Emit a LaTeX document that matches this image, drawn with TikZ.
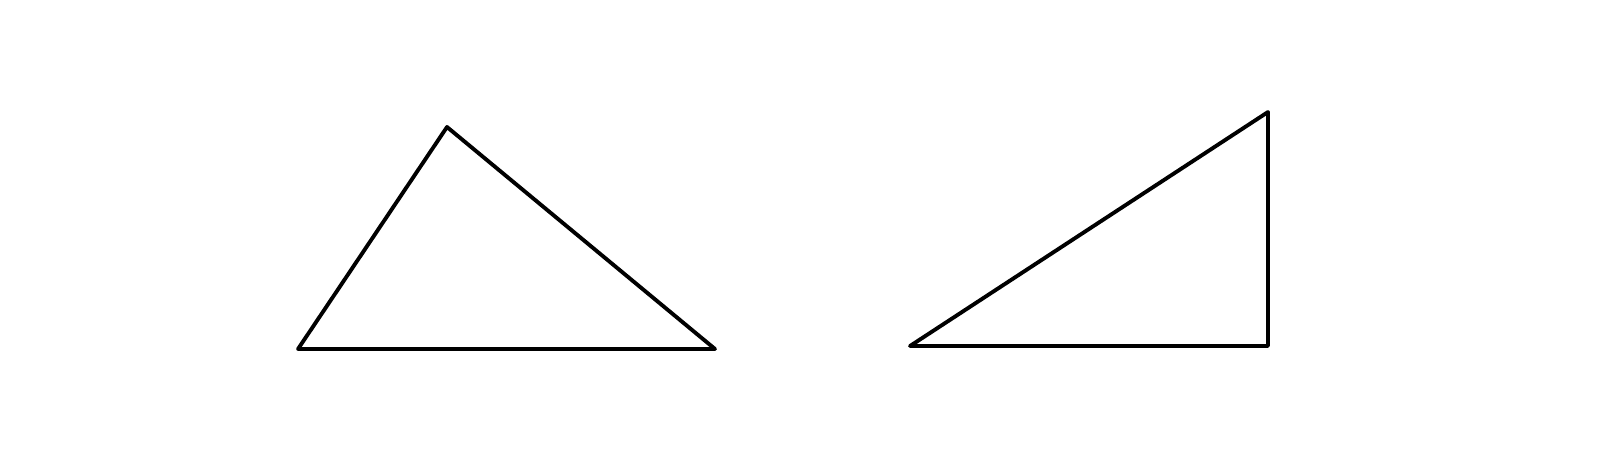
\documentclass[tikz,border=0pt]{standalone}
\usetikzlibrary{positioning}

\begin{document}
\begin{tikzpicture}[side/.style={draw, black, line width = 1.1pt, line join = round}]
	\useasboundingbox (0,0) rectangle (16,4.7);
	
	\coordinate (A) at (2.98,1.21);
	\coordinate (B) at (4.47,3.43);
	\coordinate (C) at (7.15,1.21);
	
	\coordinate (D) at (9.10,1.24);
	\coordinate (E) at (12.68,3.58);
	\coordinate (F) at (12.68,1.24);
	
	\path[side] (A) -- (B) -- (C) -- cycle;
	\path[side] (D) -- (E) -- (F) -- cycle;
\end{tikzpicture}
\end{document}
